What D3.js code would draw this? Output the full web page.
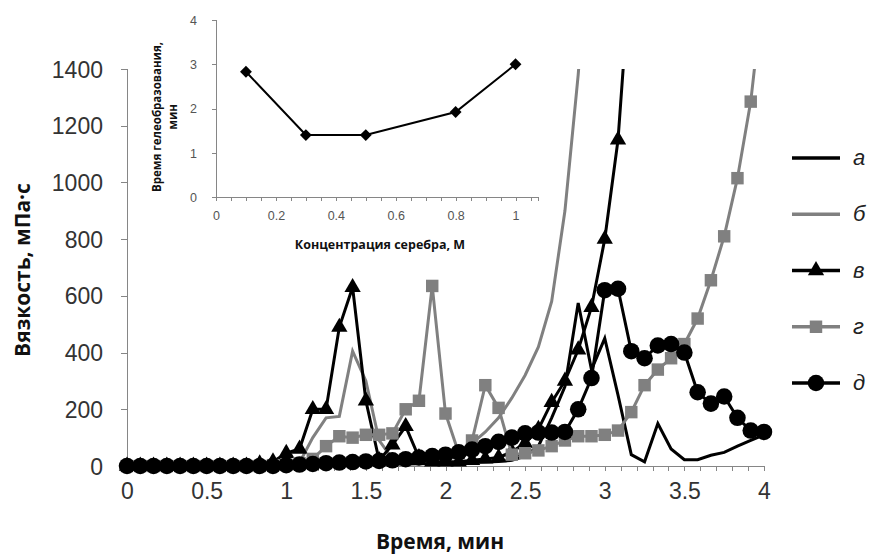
<!DOCTYPE html>
<html lang="ru">
<head>
<meta charset="UTF-8">
<title>Вязкость</title>
<script src="https://cdn.jsdelivr.net/npm/d3@7/dist/d3.min.js"></script>
<style>
  body { margin: 0; background: #fff; }
  svg { display: block; font-family: "Open Sans", "Noto Sans", sans-serif; }
  .axis path, .axis line { stroke: #868686; shape-rendering: crispEdges; }
  .main-axis text { font-size: 23px; fill: #333; }
  .inset-axis text { font-size: 12.5px; fill: #555; }
  .title { font-weight: bold; fill: #111; }
  .legend text { font-family: "Liberation Sans", Arial, sans-serif; font-style: italic; font-size: 22px; fill: #222; }
</style>
</head>
<body>
<script>
// time, seconds (step 5 s)
const times = [0, 5, 10, 15, 20, 25, 30, 35, 40, 45, 50, 55,
  60, 65, 70, 75, 80, 85, 90, 95, 100, 105, 110, 115,
  120, 125, 130, 135, 140, 145, 150, 155, 160, 165, 170, 175,
  180, 185, 190, 195, 200, 205, 210, 215, 220, 225, 230, 235, 240];

// viscosity, mPa*s
const seriesA = [0, 0, 0, 0, 0, 0, 0, 0, 0, 0, 0, 2,
  3, 3, 4, 4, 5, 5, 5, 6, 6, 7, 8, 9,
  10, 11, 12, 14, 16, 20, 35, 70, 170, 280, 575, 340,
  450, 250, 40, 15, 150, 60, 22, 22, 38, 48, 70, 90, 110];
const seriesB = [0, 0, 0, 0, 0, 0, 0, 0, 0, 0, 2, 3,
  5, 12, 100, 170, 175, 405, 300, 90, 25, 20, 20, 25,
  35, 50, 80, 120, 170, 240, 320, 420, 580, 900, 1380, 2000, 2800];
const seriesV = [0, 0, 0, 0, 0, 0, 0, 0, 0, 0, 8, 15,
  45, 60, 200, 200, 490, 630, 230, 20, 75, 140, 30, 15,
  15, 15, 20, 25, 30, 50, 80, 130, 225, 300, 410, 560,
  800, 1150, 1800];
const seriesG = [0, 0, 0, 0, 0, 0, 0, 0, 0, 0, 0, 3,
  5, 10, 25, 70, 105, 100, 110, 110, 115, 200, 230, 635,
  185, 45, 90, 285, 205, 40, 45, 55, 70, 90, 105, 105,
  110, 125, 190, 285, 340, 380, 430, 520, 655, 810, 1015, 1285, 1700];
const seriesD = [0, 0, 0, 0, 0, 0, 0, 0, 0, 0, 0, 0,
  3, 5, 7, 10, 12, 14, 16, 18, 20, 24, 30, 35,
  40, 48, 58, 70, 85, 100, 115, 118, 118, 120, 200, 310,
  620, 625, 405, 380, 425, 430, 400, 260, 220, 245, 170, 125, 120];

const seriesNames = ['а', 'б', 'в', 'г', 'д'];
const xTicks = [0, 0.5, 1, 1.5, 2, 2.5, 3, 3.5, 4];
const yTicks = [0, 200, 400, 600, 800, 1000, 1200, 1400];

// inset: gel time vs silver concentration
const concentration = [0.1, 0.3, 0.5, 0.8, 1.0];
const gelTime = [2.83, 1.4, 1.4, 1.92, 3.0];
const insetXTicks = [0, 0.2, 0.4, 0.6, 0.8, 1];
const insetYTicks = [0, 1, 2, 3, 4];

const W = 870, H = 560;
const svg = d3.select('body').append('svg').attr('width', W).attr('height', H);

const x = d3.scaleLinear().domain([0, 4]).range([127, 764]);
const y = d3.scaleLinear().domain([0, 1400]).range([466, 69]);

// axes
svg.append('g').attr('class', 'axis main-axis')
  .attr('transform', 'translate(0,466)')
  .call(d3.axisBottom(x).tickValues(d3.range(0, 4.001, 0.1)).tickSize(5).tickFormat(''));
svg.append('g').attr('class', 'axis main-axis')
  .attr('transform', 'translate(0,466)')
  .call(d3.axisBottom(x).tickValues(xTicks).tickSize(0).tickPadding(17).tickFormat(d3.format('')))
  .call(g => g.select('.domain').remove());
svg.append('g').attr('class', 'axis main-axis')
  .attr('transform', 'translate(127,0)')
  .call(d3.axisLeft(y).tickValues(yTicks).tickSize(6).tickPadding(18).tickFormat(d3.format('d')))
  .call(g => g.selectAll('text').attr('dy', '0.35em'));

svg.append('text').attr('class', 'title')
  .attr('transform', 'translate(30,270) rotate(-90)')
  .attr('text-anchor', 'middle').attr('font-size', 21)
  .text('Вязкость, мПа·с');
svg.append('text').attr('class', 'title')
  .attr('x', 440).attr('y', 549)
  .attr('text-anchor', 'middle').attr('font-size', 21)
  .text('Время, мин');

// plot
svg.append('clipPath').attr('id', 'clip')
  .append('rect').attr('x', 0).attr('y', 69).attr('width', W).attr('height', H - 69);
const plot = svg.append('g').attr('clip-path', 'url(#clip)');

const GRAY = '#808080';
const styles = [
  { data: seriesA, color: '#000', symbol: null },
  { data: seriesB, color: GRAY, symbol: null },
  { data: seriesV, color: '#000', symbol: d3.symbolTriangle, size: 115 },
  { data: seriesG, color: GRAY, symbol: d3.symbolSquare, size: 155 },
  { data: seriesD, color: '#000', symbol: d3.symbolCircle, size: 215 }
];

const line = d3.line()
  .defined(d => d[1] != null)
  .x(d => x(d[0])).y(d => y(d[1]));

styles.forEach(s => {
  const pts = s.data.map((v, i) => [times[i] / 60, v]);
  plot.append('path').datum(pts)
    .attr('fill', 'none').attr('stroke', s.color).attr('stroke-width', 3)
    .attr('stroke-linejoin', 'miter').attr('d', line);
  if (s.symbol) {
    plot.append('g').selectAll('path').data(pts).join('path')
      .attr('transform', d => `translate(${x(d[0])},${y(d[1])})`)
      .attr('d', d3.symbol().type(s.symbol).size(s.size))
      .attr('fill', s.color);
  }
});

// legend
const legend = svg.append('g').attr('class', 'legend');
const ly = d3.scalePoint().domain(seriesNames).range([158, 383]);
seriesNames.forEach((n, i) => {
  const s = styles[i];
  const g = legend.append('g').attr('transform', `translate(0,${ly(n)})`);
  g.append('line').attr('x1', 792).attr('x2', 840)
    .attr('stroke', s.color).attr('stroke-width', 3.5);
  if (s.symbol) {
    g.append('path').attr('transform', 'translate(816,0)')
      .attr('d', d3.symbol().type(s.symbol).size(s.size))
      .attr('fill', s.color);
  }
  g.append('text').attr('x', 853).attr('y', 7).text(n);
});

// inset chart
const ix = d3.scaleLinear().domain([0, 1.075]).range([216, 538]);
const iy = d3.scaleLinear().domain([0, 4]).range([197, 20]);
const inset = svg.append('g');

inset.append('g').attr('class', 'axis inset-axis')
  .attr('transform', 'translate(0,197)')
  .call(d3.axisBottom(ix).tickValues(d3.range(0, 1.076, 0.05)).tickSize(4).tickFormat(''));
inset.append('g').attr('class', 'axis inset-axis')
  .attr('transform', 'translate(0,197)')
  .call(d3.axisBottom(ix).tickValues(insetXTicks).tickSize(0).tickPadding(14).tickFormat(d3.format('')))
  .call(g => g.select('.domain').remove());
inset.append('g').attr('class', 'axis inset-axis')
  .attr('transform', 'translate(216,0)')
  .call(d3.axisLeft(iy).tickValues(insetYTicks).tickSize(4).tickPadding(15).tickFormat(d3.format('d')))
  .call(g => g.selectAll('text').attr('dy', '0.35em'));

inset.append('text').attr('class', 'title').attr('font-size', 12.5)
  .attr('x', 380).attr('y', 249).attr('text-anchor', 'middle')
  .text('Концентрация серебра, М');
const it = inset.append('text').attr('class', 'title').attr('font-size', 11.5)
  .attr('transform', 'translate(161,117) rotate(-90)').attr('text-anchor', 'middle');
it.append('tspan').attr('x', 0).attr('dy', 0).text('Время гелеобразования,');
it.append('tspan').attr('x', 0).attr('dy', 16).text('мин');

const ipts = concentration.map((c, i) => [c, gelTime[i]]);
inset.append('path').datum(ipts)
  .attr('fill', 'none').attr('stroke', '#000').attr('stroke-width', 2)
  .attr('d', d3.line().x(d => ix(d[0])).y(d => iy(d[1])));
inset.append('g').selectAll('path').data(ipts).join('path')
  .attr('transform', d => `translate(${ix(d[0])},${iy(d[1])}) rotate(45)`)
  .attr('d', d3.symbol().type(d3.symbolSquare).size(70))
  .attr('fill', '#000');
</script>
</body>
</html>
